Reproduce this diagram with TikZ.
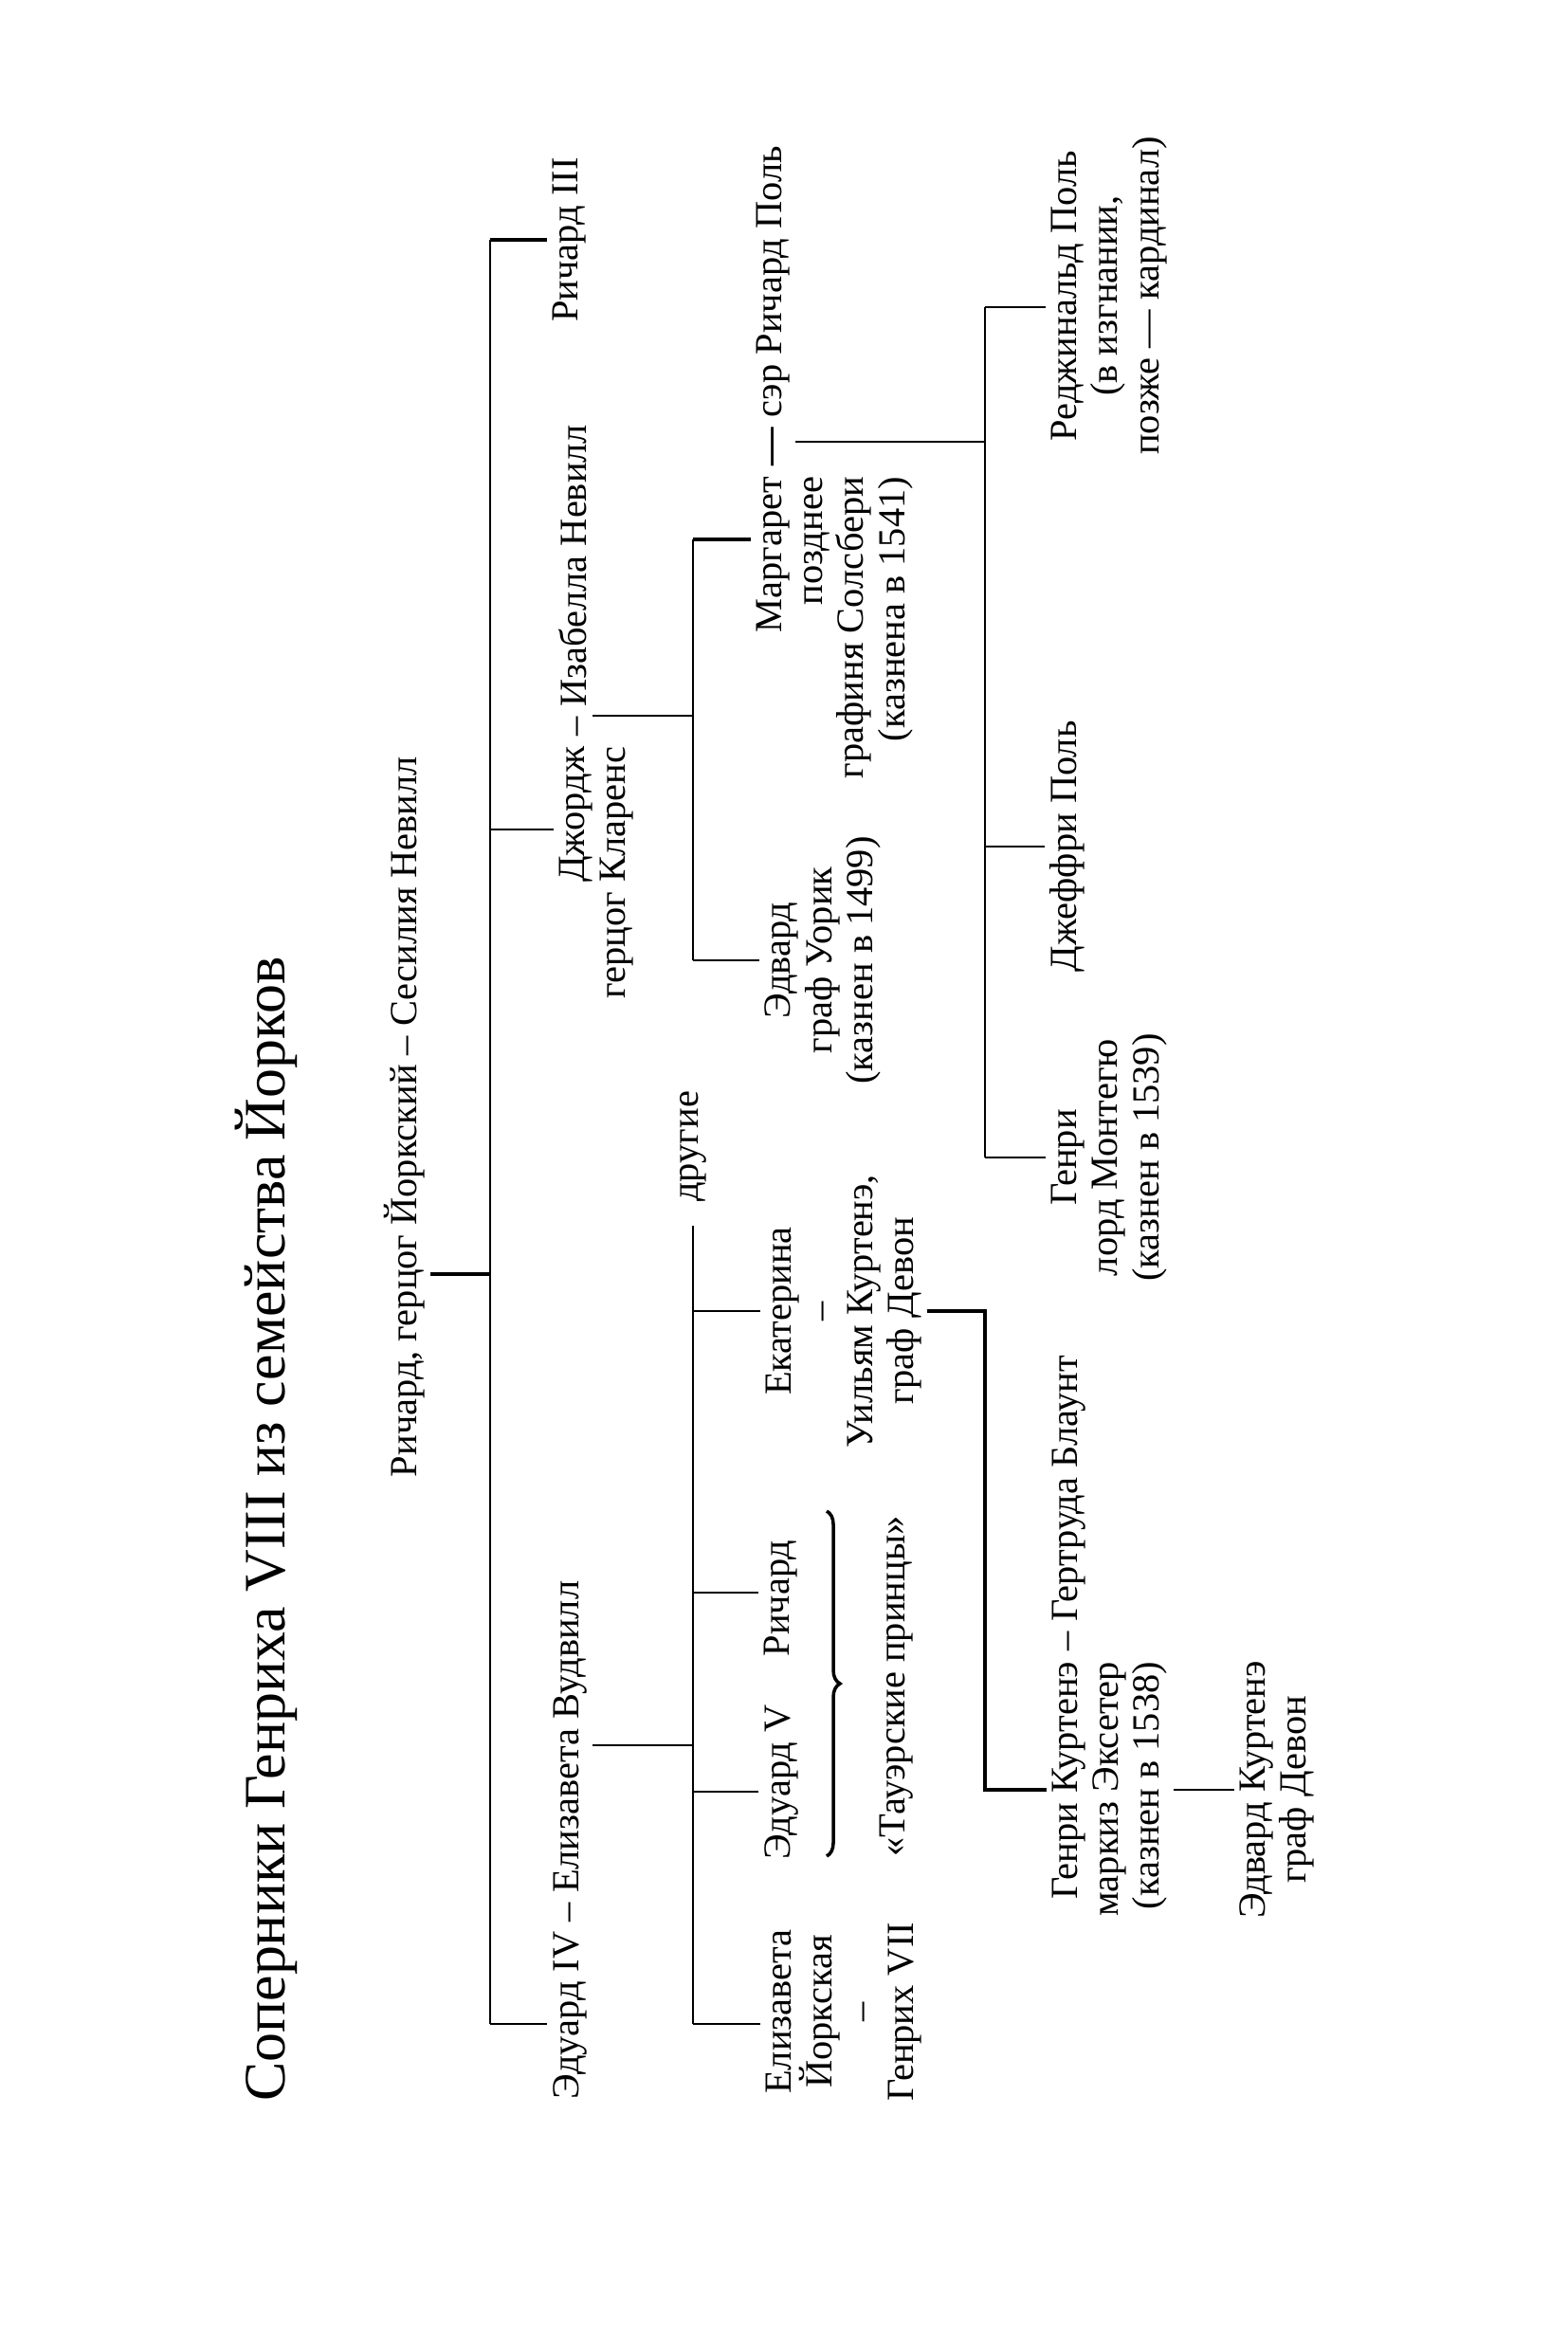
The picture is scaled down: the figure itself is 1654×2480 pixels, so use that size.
\documentclass[tikz,border=0pt]{standalone}
\usepackage{fontspec}
\setmainfont{Liberation Serif}
\usetikzlibrary{decorations.pathreplacing,calc}
\begin{document}
\begin{tikzpicture}[x=0.01cm,y=-0.01cm,
  every node/.style={rotate=90, inner sep=1.5pt, font=\fontsize{11.5}{12.3}\selectfont},
  person/.style={align=center},
  personr/.style={align=right, anchor=north east},
  titlest/.style={font=\fontsize{17.6}{21}\selectfont},
  conn/.style={line width=0.5pt},
  boldconn/.style={line width=1pt},
  bracest/.style={line width=1pt, decorate, decoration={brace, amplitude=4pt}}]
\useasboundingbox (0,0) rectangle (1654,2480);

% title
\node[titlest] (title) at (281,1613) {Соперники Генриха VIII из семейства Йорков};

% generation 0
\node (root) at (427,1178) {Ричард, герцог Йоркский – Сесилия Невилл};

% generation 1
\node (r3) at (601,253) {Ричард III};
\node[personr] (george) at (584,782) {Джордж\\герцог Кларенс};
\node[anchor=north west] (isabella) at (george.north east) {– Изабелла Невилл};
\node (e4) at (601,1941) {Эдуард IV – Елизавета Вудвилл};

% generation 2 (George)
\node[personr] (mar) at (792,497) {Маргарет\\позднее\\графиня Солсбери\\(казнена в 1541)};
\node[anchor=north west] (pole) at (mar.north east) {{\bfseries —} сэр Ричард Поль};
\node[person] (warw) at (868,1013) {Эдвард\\граф Уорик\\(казнен в 1499)};

% generation 2 (Edward IV)
\node[anchor=west, inner xsep=7pt] (drugie) at (731,1293) {другие};
\node[person] (ekat) at (890,1383) {Екатерина\\–\\Уильям Куртенэ,\\граф Девон};
\node (rich) at (824,1686) {Ричард};
\node (e5) at (824,1880) {Эдуард V};
\node[person] (eliz) at (890,2122) {Елизавета\\Йоркская\\–\\Генрих VII};
\node (tower) at (946,1779) {«Тауэрские принцы»};

% generation 3
\node[person] (regi) at (1170,312) {Реджинальд Поль\\(в изгнании,\\позже — кардинал)};
\node (geof) at (1126,893) {Джеффри Поль};
\node[person] (henm) at (1170,1221) {Генри\\лорд Монтегю\\(казнен в 1539)};
\node[personr] (hcourt) at (1104,1747) {Генри Куртенэ\\маркиз Эксетер\\(казнен в 1538)};
\node[anchor=north west] (gert) at (hcourt.north east) {– Гертруда Блаунт};

% generation 4
\node[person] (edc) at (1347,1888) {Эдвард Куртенэ\\граф Девон};

% junction coordinates
\coordinate (rj) at (517,1344);
\coordinate (ttop) at (517,253);
\coordinate (tgeo) at (517,875);
\coordinate (tbot) at (517,2135);
\coordinate (gj) at (731,755);
\coordinate (gtop) at (731,569);
\coordinate (gbot) at (731,1013);
\coordinate (ej) at (731,1841);
\coordinate (ebot) at (731,2135);
\coordinate (ee5) at (731,1890);
\coordinate (eri) at (731,1680);
\coordinate (eek) at (731,1383);
\coordinate (pj) at (1039,466);
\coordinate (ptop) at (1039,324);
\coordinate (pmid) at (1039,893);
\coordinate (pbot) at (1039,1221);
\coordinate (kc1) at (1039,1383);
\coordinate (kc2) at (1039,1888);
\coordinate (bt) at (872,1594);
\coordinate (bb) at (872,1958);

% connectors generation 0 -> 1
\draw[boldconn] (rj -| root.south) -- (rj);
\draw[conn] (ttop) -- (tbot);
\draw[boldconn] (ttop) -- (r3.north);
\draw[conn] (tgeo) -- (tgeo -| george.north);
\draw[conn] (tbot) -- (tbot -| e4.north);

% George's children
\draw[conn] (gj -| isabella.south) -- (gj);
\draw[conn] (gtop) -- (gbot);
\draw[boldconn] (gtop) -- (gtop -| mar.north);
\draw[conn] (gbot) -- (gbot -| warw.north);

% Edward IV's children
\draw[conn] (ej -| e4.south) -- (ej);
\draw[conn] (drugie.west) -- (ebot);
\draw[conn] (ebot) -- (ebot -| eliz.north);
\draw[conn] (ee5) -- (ee5 -| e5.north);
\draw[conn] (eri) -- (eri -| rich.north);
\draw[conn] (eek) -- (eek -| ekat.north);
\draw[bracest] (bt) -- (bb);

% Pole children
\draw[conn] (pj -| pole.south) -- (pj);
\draw[conn] (ptop) -- (pbot);
\draw[conn] (ptop) -- (ptop -| regi.north);
\draw[conn] (pmid) -- (pmid -| geof.north);
\draw[conn] (pbot) -- (pbot -| henm.north);

% Courtenay line
\draw[boldconn] (kc1 -| ekat.south) -- (kc1) -- (kc2) -- (kc2 -| hcourt.north);
\draw[conn] (kc2 -| hcourt.south) -- (kc2 -| edc.north);
\end{tikzpicture}
\end{document}
